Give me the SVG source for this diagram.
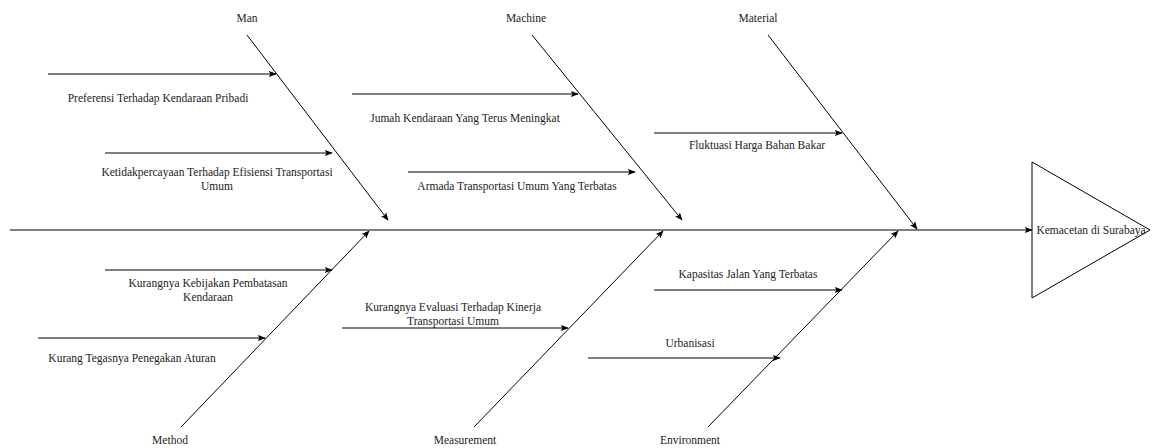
<svg xmlns="http://www.w3.org/2000/svg" width="1152" height="448" viewBox="0 0 1152 448">
<defs>
<marker id="ah" viewBox="0 0 10 10" refX="9" refY="5" markerWidth="8" markerHeight="8" markerUnits="userSpaceOnUse" orient="auto">
<path d="M0,1 L10,5 L0,9 L2,5 Z" fill="#000"/>
</marker>
<style>
.ln{stroke:#000;stroke-width:1;fill:none;marker-end:url(#ah)}
text{font-family:'Liberation Serif',serif;font-size:11.5px;fill:#222;text-anchor:middle}
</style>
</defs>
<rect width="1152" height="448" fill="#fff"/>
<g id="connectors">
<line class="ln" x1="10" y1="230" x2="1032" y2="230"/>
<line class="ln" x1="247" y1="35" x2="388" y2="220"/>
<line class="ln" x1="532" y1="35" x2="682" y2="220"/>
<line class="ln" x1="768" y1="35" x2="917" y2="229"/>
<line class="ln" x1="181" y1="427" x2="369" y2="231"/>
<line class="ln" x1="474" y1="427" x2="663" y2="231"/>
<line class="ln" x1="708" y1="427" x2="898" y2="231"/>
<line class="ln" x1="48" y1="74" x2="276" y2="74"/>
<line class="ln" x1="105" y1="153" x2="332" y2="153"/>
<line class="ln" x1="352" y1="94" x2="578" y2="94"/>
<line class="ln" x1="408" y1="172" x2="635" y2="172"/>
<line class="ln" x1="654" y1="133" x2="842" y2="133"/>
<line class="ln" x1="105" y1="270" x2="332" y2="270"/>
<line class="ln" x1="38" y1="338" x2="265" y2="338"/>
<line class="ln" x1="342" y1="328" x2="568" y2="328"/>
<line class="ln" x1="654" y1="290" x2="842" y2="290"/>
<line class="ln" x1="588" y1="358" x2="780" y2="358"/>
</g>
<g id="effect">
<path d="M1032,162 L1150,230 L1032,298 Z" fill="#fff" stroke="#000" stroke-width="1"/>
<text x="1091" y="234">Kemacetan di Surabaya</text>
</g>
<g id="man"><text x="247" y="22">Man</text></g>
<g id="machine"><text x="526" y="22">Machine</text></g>
<g id="material"><text x="758" y="22">Material</text></g>
<g id="method"><text x="170" y="444">Method</text></g>
<g id="measurement"><text x="465" y="444">Measurement</text></g>
<g id="environment"><text x="690" y="444">Environment</text></g>
<g id="c1"><text x="158" y="102">Preferensi Terhadap Kendaraan Pribadi</text></g>
<g id="c2"><text x="217" y="176">Ketidakpercayaan Terhadap Efisiensi Transportasi</text><text x="217" y="190">Umum</text></g>
<g id="c3"><text x="465" y="122">Jumah Kendaraan Yang Terus Meningkat</text></g>
<g id="c4"><text x="517" y="190">Armada Transportasi Umum Yang Terbatas</text></g>
<g id="c5"><text x="757" y="149">Fluktuasi Harga Bahan Bakar</text></g>
<g id="c6"><text x="208" y="287">Kurangnya Kebijakan Pembatasan</text><text x="208" y="301">Kendaraan</text></g>
<g id="c7"><text x="132" y="362">Kurang Tegasnya Penegakan Aturan</text></g>
<g id="c8"><text x="453" y="311">Kurangnya Evaluasi Terhadap Kinerja</text><text x="453" y="325">Transportasi Umum</text></g>
<g id="c9"><text x="748" y="278">Kapasitas Jalan Yang Terbatas</text></g>
<g id="c10"><text x="690" y="347">Urbanisasi</text></g>
</svg>
